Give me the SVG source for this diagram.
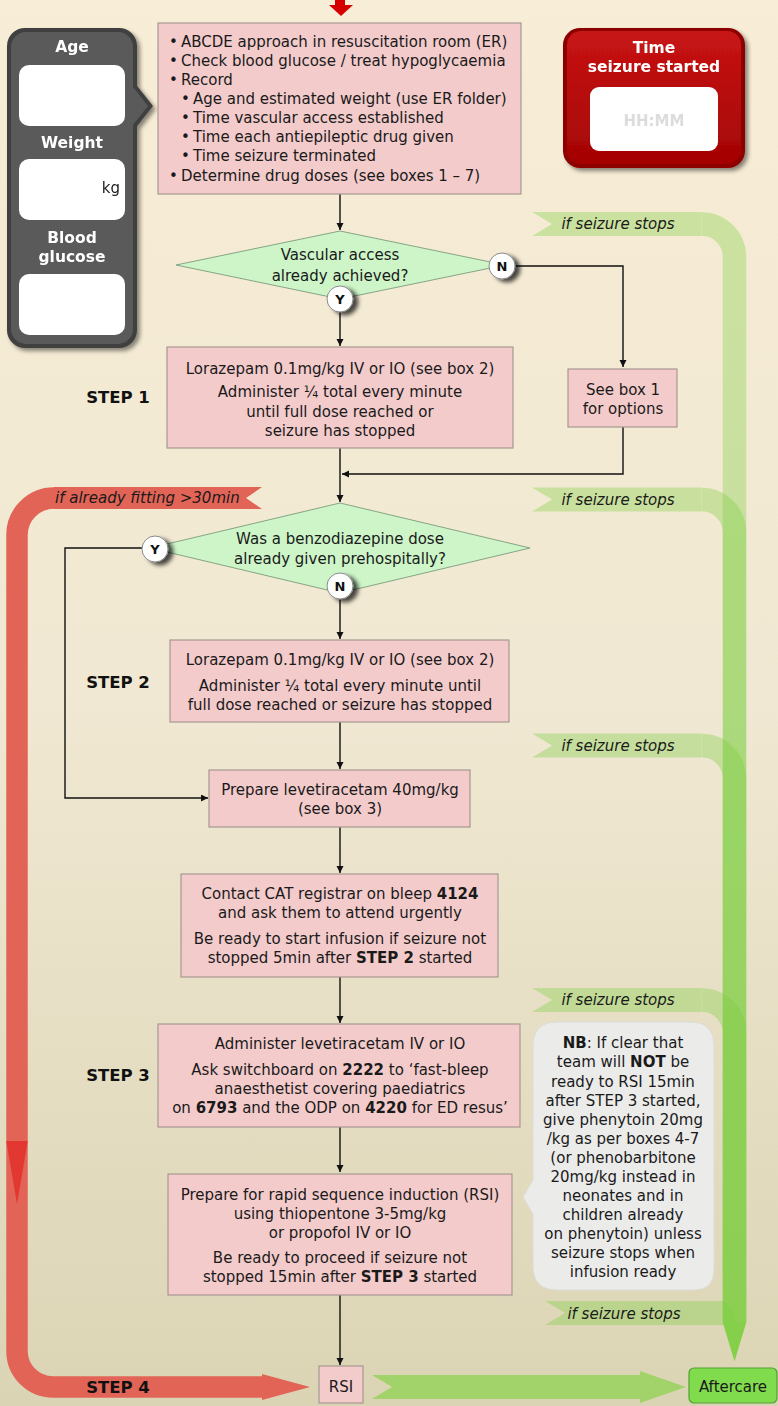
<svg xmlns="http://www.w3.org/2000/svg" width="778" height="1406" viewBox="0 0 778 1406">
<defs>
<linearGradient id="bg" x1="0" y1="0" x2="0" y2="1">
<stop offset="0" stop-color="#f8edd6"/>
<stop offset="0.5" stop-color="#f0e8d2"/>
<stop offset="1" stop-color="#dbd4b4"/>
</linearGradient>
<linearGradient id="redg" x1="0" y1="0" x2="0" y2="1">
<stop offset="0" stop-color="#c81414"/>
<stop offset="1" stop-color="#a40404"/>
</linearGradient>
<filter id="sh" x="-30%" y="-30%" width="160%" height="160%">
<feDropShadow dx="3" dy="3" stdDeviation="2" flood-color="#000" flood-opacity="0.45"/>
</filter>
<filter id="csh" x="-50%" y="-50%" width="250%" height="250%">
<feDropShadow dx="5" dy="3" stdDeviation="2" flood-color="#000" flood-opacity="0.7"/>
</filter>
<marker id="arr" markerWidth="8" markerHeight="8" refX="7" refY="3.5" orient="auto" markerUnits="userSpaceOnUse">
<path d="M0,0 L7,3.5 L0,7 Z" fill="#111"/>
</marker>
<style>
.box{fill:#f3cbcb;stroke:#a89892;stroke-width:1.2}
.dia{fill:#cdf5c8;stroke:#86a486;stroke-width:1}
.t{font-family:'DejaVu Sans',Verdana,sans-serif;font-size:15px;fill:#1a1a1a}
.c{text-anchor:middle}
.b{font-weight:bold}
.it{font-style:italic}
.w{fill:#ffffff;font-weight:bold;font-size:15.5px}
.step{font-weight:bold;font-size:16.5px;text-anchor:middle;fill:#111}
.conn{stroke:#111;stroke-width:1.4;fill:none}
.ar{marker-end:url(#arr)}
.yn{fill:#fff;stroke:#8a8a8a;stroke-width:1}
.ynt{font-family:'DejaVu Sans',Verdana,sans-serif;font-size:13px;font-weight:bold;text-anchor:middle;fill:#111}
.gb{opacity:0.35}
.gf{fill:#7ccf3f}
.gs{stroke:#7ccf3f;stroke-width:23.5;fill:none}
.red{fill:#e26457}
.wb{fill:#ffffff}
</style>
</defs>

<rect x="0" y="0" width="778" height="1406" fill="url(#bg)"/>

<!-- green "if seizure stops" bands -->
<g id="green-bands">
<g class="gb">
<polygon class="gf" points="532,212 701.5,212 701.5,236 532,236 552,224"/>
<path class="gs" d="M701.5,224 A33 33 0 0 1 734.5,257 V1322"/>
<polygon class="gf" points="722.75,1322 746.25,1322 734.5,1361"/>
</g>
<g class="gb">
<polygon class="gf" points="532,487.5 701.5,487.5 701.5,511.5 532,511.5 552,499.5"/>
<path class="gs" d="M701.5,499.5 A33 33 0 0 1 734.5,532.5 V1322"/>
<polygon class="gf" points="722.75,1322 746.25,1322 734.5,1361"/>
</g>
<g class="gb">
<polygon class="gf" points="532,733.5 701.5,733.5 701.5,757.5 532,757.5 552,745.5"/>
<path class="gs" d="M701.5,745.5 A33 33 0 0 1 734.5,778.5 V1322"/>
<polygon class="gf" points="722.75,1322 746.25,1322 734.5,1361"/>
</g>
<g class="gb">
<polygon class="gf" points="532,988 701.5,988 701.5,1012 532,1012 552,1000"/>
<path class="gs" d="M701.5,1000 A33 33 0 0 1 734.5,1033 V1322"/>
<polygon class="gf" points="722.75,1322 746.25,1322 734.5,1361"/>
</g>
<g class="gb">
<polygon class="gf" points="545,1301 724,1301 734.5,1313 734.5,1325 545,1325 565,1313"/>
<polygon class="gf" points="722.75,1322 746.25,1322 734.5,1361"/>
</g>
<text class="t it c" x="618" y="229">if seizure stops</text>
<text class="t it c" x="618" y="505">if seizure stops</text>
<text class="t it c" x="618" y="751">if seizure stops</text>
<text class="t it c" x="618" y="1005">if seizure stops</text>
<text class="t it c" x="624" y="1319">if seizure stops</text>
<polygon points="372,1375 640,1375 640,1371 686,1387 640,1403 640,1399 372,1399 392,1387" fill="#a2d36a"/>
</g>

<!-- red "already fitting" band -->
<g id="red-band">
<polygon class="red" points="54,487 262,487 246,498 262,509 54,509"/>
<path d="M54,498 A37 37 0 0 0 17,535 V1351 A36 36 0 0 0 53,1387 H263" fill="none" stroke="#e26457" stroke-width="21.5"/>
<polygon class="red" points="262,1374 310,1387 262,1400"/>
<polygon points="6.25,1141 27.75,1141 17,1204" fill="#e3302c" opacity="0.85"/>
<text class="t it" x="55" y="503">if already fitting &gt;30min</text>
<text class="t step" x="118" y="1393">STEP 4</text>
</g>

<!-- top red arrow -->
<g id="start-arrow">
<rect x="335" y="0" width="10" height="6" fill="#d40000"/>
<polygon points="329,5 353,5 341,16" fill="#d40000"/>
</g>

<!-- connectors -->
<g id="connectors">
<path class="conn ar" d="M340,194 V230"/>
<path class="conn ar" d="M340,312 V346"/>
<path class="conn ar" d="M515,266 H623 V367"/>
<path class="conn ar" d="M623,427 V474 H342"/>
<path class="conn ar" d="M340,448 V502"/>
<path class="conn ar" d="M142,548 H65 V798 H208"/>
<path class="conn ar" d="M340,599 V639"/>
<path class="conn ar" d="M340,722 V769"/>
<path class="conn ar" d="M340,827 V873"/>
<path class="conn ar" d="M340,977 V1023"/>
<path class="conn ar" d="M340,1127 V1172"/>
<path class="conn ar" d="M340,1295 V1365"/>
</g>

<!-- left info panel -->
<g id="info-panel" filter="url(#sh)">
<polygon points="134,82 153,106 134,130" fill="#3f3f3f"/>
<rect x="7" y="28" width="130" height="320" rx="18" fill="#3f3f3f"/>
<rect x="11" y="32" width="122" height="312" rx="15" fill="#5a5a5a"/>
<polygon points="133,87 148,106 133,125" fill="#5a5a5a"/>
<text class="t w c" x="72" y="52">Age</text>
<rect class="wb" x="19" y="65" width="106" height="61" rx="10"/>
<text class="t w c" x="72" y="148">Weight</text>
<rect class="wb" x="19" y="159" width="106" height="61" rx="10"/>
<text class="t" x="120" y="193" text-anchor="end" font-size="14">kg</text>
<text class="t w c" x="72" y="243">Blood</text>
<text class="t w c" x="72" y="262">glucose</text>
<rect class="wb" x="19" y="274" width="106" height="61" rx="10"/>
</g>

<!-- time box -->
<g id="time-box" filter="url(#sh)">
<rect x="563" y="28" width="182" height="140" rx="17" fill="#8c0000"/>
<rect x="567" y="31" width="174" height="133" rx="14" fill="url(#redg)"/>
<text class="t w c" x="654" y="53">Time</text>
<text class="t w c" x="654" y="72">seizure started</text>
<rect class="wb" x="590" y="87" width="128" height="64" rx="9"/>
<text class="t c b" x="654" y="126" font-size="17" fill="#dcdcdc" style="fill:#dcdcdc">HH:MM</text>
</g>

<!-- top box -->
<g id="initial-box">
<rect class="box" x="158" y="23" width="363" height="171"/>
<text class="t" x="169" y="47">•</text><text class="t" x="181" y="47">ABCDE approach in resuscitation room (ER)</text>
<text class="t" x="169" y="66">•</text><text class="t" x="181" y="66">Check blood glucose / treat hypoglycaemia</text>
<text class="t" x="169" y="85">•</text><text class="t" x="181" y="85">Record</text>
<text class="t" x="181" y="104">•</text><text class="t" x="193" y="104">Age and estimated weight (use ER folder)</text>
<text class="t" x="181" y="123">•</text><text class="t" x="193" y="123">Time vascular access established</text>
<text class="t" x="181" y="142">•</text><text class="t" x="193" y="142">Time each antiepileptic drug given</text>
<text class="t" x="181" y="161">•</text><text class="t" x="193" y="161">Time seizure terminated</text>
<text class="t" x="169" y="181">•</text><text class="t" x="181" y="181">Determine drug doses (see boxes 1 – 7)</text>
</g>

<!-- decision 1 -->
<g id="decision-vascular">
<polygon class="dia" points="340,231 505,265 340,299 176,265"/>
<text class="t c" x="340" y="260">Vascular access</text>
<text class="t c" x="340" y="281">already achieved?</text>
<circle class="yn" cx="502" cy="266" r="13" filter="url(#csh)"/>
<text class="ynt" x="502" y="271">N</text>
<circle class="yn" cx="340" cy="299" r="13" filter="url(#csh)"/>
<text class="ynt" x="340" y="304">Y</text>
</g>

<!-- step 1 -->
<g id="step1">
<text class="t step" x="118" y="403">STEP 1</text>
<rect class="box" x="167" y="347" width="346" height="101"/>
<text class="t c" x="340" y="374">Lorazepam 0.1mg/kg IV or IO (see box 2)</text>
<text class="t c" x="340" y="397">Administer ¼ total every minute</text>
<text class="t c" x="340" y="417">until full dose reached or</text>
<text class="t c" x="340" y="436">seizure has stopped</text>
</g>

<g id="see-box-1">
<rect class="box" x="568" y="369" width="109" height="58"/>
<text class="t c" x="623" y="395">See box 1</text>
<text class="t c" x="623" y="414">for options</text>
</g>

<!-- decision 2 -->
<g id="decision-benzo">
<polygon class="dia" points="340,503 530,548 340,593 150,548"/>
<text class="t c" x="340" y="544">Was a benzodiazepine dose</text>
<text class="t c" x="340" y="564">already given prehospitally?</text>
<circle class="yn" cx="155" cy="549" r="13" filter="url(#csh)"/>
<text class="ynt" x="155" y="554">Y</text>
<circle class="yn" cx="340" cy="586" r="13" filter="url(#csh)"/>
<text class="ynt" x="340" y="591">N</text>
</g>

<!-- step 2 -->
<g id="step2">
<text class="t step" x="118" y="688">STEP 2</text>
<rect class="box" x="170" y="640" width="339" height="82"/>
<text class="t c" x="340" y="665">Lorazepam 0.1mg/kg IV or IO (see box 2)</text>
<text class="t c" x="340" y="691">Administer ¼ total every minute until</text>
<text class="t c" x="340" y="710">full dose reached or seizure has stopped</text>
</g>

<g id="prepare-levetiracetam">
<rect class="box" x="209" y="770" width="261" height="57"/>
<text class="t c" x="340" y="795">Prepare levetiracetam 40mg/kg</text>
<text class="t c" x="340" y="814">(see box 3)</text>
</g>

<g id="contact-cat">
<rect class="box" x="181" y="874" width="317" height="103"/>
<text class="t c" x="340" y="899">Contact CAT registrar on bleep <tspan class="b">4124</tspan></text>
<text class="t c" x="340" y="918">and ask them to attend urgently</text>
<text class="t c" x="340" y="944">Be ready to start infusion if seizure not</text>
<text class="t c" x="340" y="963">stopped 5min after <tspan class="b">STEP 2</tspan> started</text>
</g>

<!-- step 3 -->
<g id="step3">
<text class="t step" x="118" y="1081">STEP 3</text>
<rect class="box" x="158" y="1024" width="362" height="103"/>
<text class="t c" x="340" y="1049">Administer levetiracetam IV or IO</text>
<text class="t c" x="340" y="1075">Ask switchboard on <tspan class="b">2222</tspan> to ‘fast-bleep</text>
<text class="t c" x="340" y="1094">anaesthetist covering paediatrics</text>
<text class="t c" x="340" y="1113">on <tspan class="b">6793</tspan> and the ODP on <tspan class="b">4220</tspan> for ED resus’</text>
</g>

<g id="nb-note">
<path d="M557,1022 H690 Q714,1022 714,1046 V1270 Q714,1290 694,1290 H557 Q533,1290 533,1266 V1214 Q528,1206 523,1197 Q528,1188 533,1180 V1046 Q533,1022 557,1022 Z" fill="#ebebea" stroke="#dcdcd8" stroke-width="1"/>
<text class="t c" x="623" y="1048"><tspan class="b">NB</tspan>: If clear that</text>
<text class="t c" x="623" y="1067">team will <tspan class="b">NOT</tspan> be</text>
<text class="t c" x="623" y="1087">ready to RSI 15min</text>
<text class="t c" x="623" y="1106">after STEP 3 started,</text>
<text class="t c" x="623" y="1125">give phenytoin 20mg</text>
<text class="t c" x="623" y="1144">/kg as per boxes 4-7</text>
<text class="t c" x="623" y="1163">(or phenobarbitone</text>
<text class="t c" x="623" y="1182">20mg/kg instead in</text>
<text class="t c" x="623" y="1201">neonates and in</text>
<text class="t c" x="623" y="1220">children already</text>
<text class="t c" x="623" y="1239">on phenytoin) unless</text>
<text class="t c" x="623" y="1258">seizure stops when</text>
<text class="t c" x="623" y="1277">infusion ready</text>
</g>

<g id="prepare-rsi">
<rect class="box" x="168" y="1174" width="344" height="121"/>
<text class="t c" x="340" y="1200">Prepare for rapid sequence induction (RSI)</text>
<text class="t c" x="340" y="1219">using thiopentone 3-5mg/kg</text>
<text class="t c" x="340" y="1238">or propofol IV or IO</text>
<text class="t c" x="340" y="1263">Be ready to proceed if seizure not</text>
<text class="t c" x="340" y="1282">stopped 15min after <tspan class="b">STEP 3</tspan> started</text>
</g>

<g id="rsi">
<rect class="box" x="319" y="1366" width="44" height="37"/>
<text class="t c" x="341" y="1392">RSI</text>
</g>

<g id="aftercare">
<rect x="689" y="1368" width="88" height="35" rx="5" fill="#80dc4c" stroke="#55a035" stroke-width="1.2"/>
<text class="t c" x="733" y="1392">Aftercare</text>
</g>
</svg>
